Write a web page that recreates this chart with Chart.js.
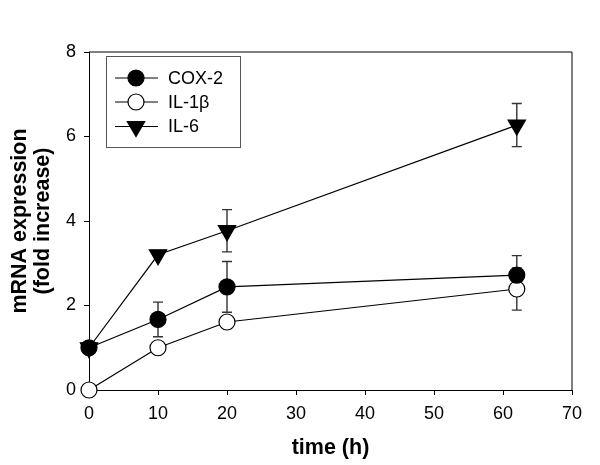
<!DOCTYPE html>
<html>
<head>
<meta charset="utf-8">
<script src="https://cdn.jsdelivr.net/npm/chart.js@4.4.1/dist/chart.umd.min.js"></script>
<style>
  html, body { margin: 0; padding: 0; background: #fff; }
  #wrap { width: 600px; height: 465px; }
</style>
</head>
<body>
<div id="wrap"><canvas id="chart" width="600" height="465"></canvas></div>
<script>
// data
const hours = [0, 10, 20, 62];
const seriesNames = ["COX-2", "IL-1\u03b2", "IL-6"];
const cox2 = [1.0, 1.67, 2.44, 2.72];
const cox2Err = [0, 0.41, 0.6, 0.46];
const il1b = [0, 1.0, 1.61, 2.39];
const il1bErr = [0, 0.1, 0.15, 0.5];
const il6 = [1.0, 3.2, 3.77, 6.27];
const il6Err = [0, 0, 0.5, 0.51];
const xTicks = [0, 10, 20, 30, 40, 50, 60, 70];
const yTicks = [0, 2, 4, 6, 8];

const FONT = "'Liberation Sans', Arial, sans-serif";

const toPoints = (vals) => hours.map((h, i) => ({ x: h, y: vals[i] }));

// error bars, drawn under the markers
const errorBars = {
  id: "errorBars",
  beforeDatasetsDraw(chart) {
    const { ctx, scales: { x, y } } = chart;
    const errs = [cox2Err, il1bErr, il6Err];
    ctx.save();
    ctx.strokeStyle = "#333";
    ctx.lineWidth = 1.4;
    chart.data.datasets.forEach((ds, di) => {
      ds.data.forEach((p, i) => {
        const e = errs[di][i];
        if (!e) return;
        const px = x.getPixelForValue(p.x);
        const top = y.getPixelForValue(p.y + e);
        const bot = y.getPixelForValue(p.y - e);
        ctx.beginPath();
        ctx.moveTo(px, top); ctx.lineTo(px, bot);
        ctx.moveTo(px - 5, top); ctx.lineTo(px + 5, top);
        ctx.moveTo(px - 5, bot); ctx.lineTo(px + 5, bot);
        ctx.stroke();
      });
    });
    ctx.restore();
  }
};

// top/right frame + legend box
const frameAndLegend = {
  id: "frameAndLegend",
  afterDraw(chart) {
    const { ctx, chartArea: a } = chart;
    ctx.save();
    ctx.strokeStyle = "#000";
    ctx.lineWidth = 1;
    ctx.beginPath();
    ctx.moveTo(a.left, a.top); ctx.lineTo(a.right, a.top); ctx.lineTo(a.right, a.bottom);
    ctx.stroke();

    // legend
    ctx.strokeStyle = "#555";
    ctx.strokeRect(106.5, 56.5, 134, 91);
    const rows = [78, 102, 126.5];
    rows.forEach((ry, i) => {
      ctx.strokeStyle = "#000";
      ctx.lineWidth = 1.2;
      ctx.beginPath();
      ctx.moveTo(115, ry); ctx.lineTo(158, ry);
      ctx.stroke();
      ctx.beginPath();
      if (i === 2) {
        const r = 10;
        ctx.moveTo(136 - r * Math.sin(Math.PI / 3), ry - r / 2);
        ctx.lineTo(136 + r * Math.sin(Math.PI / 3), ry - r / 2);
        ctx.lineTo(136, ry + r);
        ctx.closePath();
        ctx.fillStyle = "#000";
      } else {
        ctx.arc(136, ry, 8, 0, Math.PI * 2);
        ctx.fillStyle = i === 0 ? "#000" : "#fff";
      }
      ctx.fill();
      ctx.stroke();
      ctx.fillStyle = "#000";
      ctx.font = "18px " + FONT;
      ctx.textBaseline = "middle";
      ctx.fillText(seriesNames[i], 168, ry + 1);
    });
    ctx.restore();
  }
};

const lineStyle = (fill, style, rot, radius) => ({
  borderColor: "#000",
  borderWidth: 1.2,
  pointStyle: style,
  pointRotation: rot,
  pointRadius: radius,
  pointHoverRadius: radius,
  pointBackgroundColor: fill,
  pointBorderColor: "#000",
  pointBorderWidth: 1.2,
  showLine: true,
  clip: false,
  tension: 0
});

new Chart(document.getElementById("chart"), {
  type: "scatter",
  data: {
    datasets: [
      { label: seriesNames[0], data: toPoints(cox2), ...lineStyle("#000", "circle", 0, 8) },
      { label: seriesNames[1], data: toPoints(il1b), ...lineStyle("#fff", "circle", 0, 8) },
      { label: seriesNames[2], data: toPoints(il6), ...lineStyle("#000", "triangle", 180, 10) }
    ]
  },
  options: {
    responsive: false,
    animation: false,
    layout: { padding: { top: 52, right: 28, left: 0, bottom: 0 } },
    plugins: { legend: { display: false }, tooltip: { enabled: false } },
    scales: {
      x: {
        type: "linear",
        min: 0, max: 70,
        afterBuildTicks: (s) => { s.ticks = xTicks.map(v => ({ value: v })); },
        afterFit: (s) => { s.height = 75; },
        grid: { drawOnChartArea: false, drawTicks: true, tickLength: 5, color: "#000" },
        border: { display: true, color: "#000", width: 1 },
        ticks: { color: "#000", padding: 8, font: { family: FONT, size: 18 } },
        title: {
          display: true, text: "time (h)", color: "#000",
          font: { family: FONT, size: 21.5, weight: "bold", lineHeight: 1.2 },
          padding: { top: 0, bottom: 4 }
        }
      },
      y: {
        min: 0, max: 8,
        afterBuildTicks: (s) => { s.ticks = yTicks.map(v => ({ value: v })); },
        afterFit: (s) => { s.width = 89; },
        grid: { drawOnChartArea: false, drawTicks: true, tickLength: 5, color: "#000" },
        border: { display: true, color: "#000", width: 1 },
        ticks: { color: "#000", padding: 8, font: { family: FONT, size: 18 } },
        title: {
          display: true, text: ["mRNA expression", "(fold increase)"], color: "#000",
          font: { family: FONT, size: 21.5, weight: "bold", lineHeight: 1.08 },
          padding: { top: 8, bottom: 0 }
        }
      }
    }
  },
  plugins: [errorBars, frameAndLegend]
});
</script>
</body>
</html>
